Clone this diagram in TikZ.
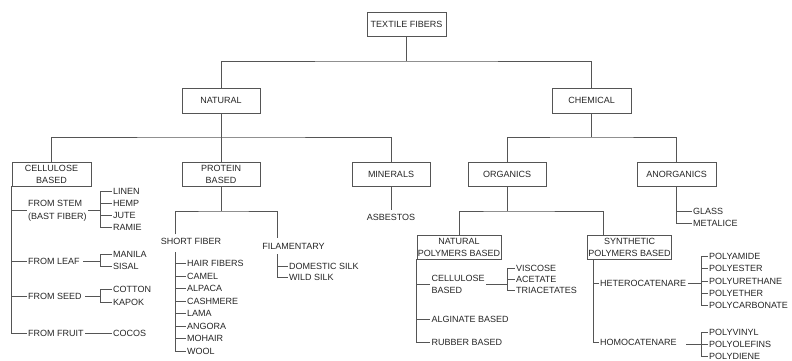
\documentclass[tikz,border=0pt]{standalone}
\usepackage{fontspec}
\setmainfont{Liberation Sans}
\usetikzlibrary{calc}
\definecolor{linec}{HTML}{555555}
\definecolor{textc}{HTML}{262626}
\begin{document}
\begin{tikzpicture}[x=1pt,y=-1pt,
  every node/.style={font=\fontsize{9}{12}\selectfont, text=textc},
  box/.style={draw=linec, line width=0.8pt, rectangle, align=center, inner sep=0.5pt, minimum height=24pt},
  lbl/.style={anchor=west, inner sep=1.5pt},
  conn/.style={draw=linec, line width=0.8pt}]
\useasboundingbox[fill=white] (0,0) rectangle (792,361);

% boxes
\node[box, minimum width=79pt] (tf) at (406.5,24) {TEXTILE FIBERS};
\node[box, minimum width=78pt, minimum height=25pt] (nat) at (221,100.5) {NATURAL};
\node[box, minimum width=79pt, minimum height=25pt] (chem) at (591.5,100.5) {CHEMICAL};
\node[box, minimum width=79pt] (cel) at (51.5,174) {CELLULOSE\\BASED};
\node[box, minimum width=78pt] (pro) at (221,174) {PROTEIN\\BASED};
\node[box, minimum width=78pt] (min) at (391,174) {MINERALS};
\node[box, minimum width=78pt] (org) at (507,174) {ORGANICS};
\node[box, minimum width=79pt] (anorg) at (676.5,174) {ANORGANICS};
\node[box, minimum width=84pt] (npb) at (459,247) {NATURAL\\POLYMERS BASED};
\node[box, minimum width=83pt] (spb) at (629.5,247) {SYNTHETIC\\POLYMERS BASED};

% top level connectors
\coordinate (j1) at (406.5,61);
\draw[conn] (tf.south) -- (j1);
\draw[conn] (nat.north) |- (j1) -| (chem.north);
\coordinate (j2) at (221,137);
\draw[conn] (nat.south) -- (j2);
\draw[conn] (cel.north) |- (j2) -| (min.north);
\draw[conn] (j2) -- (pro.north);
\coordinate (j3) at (591.5,137);
\draw[conn] (chem.south) -- (j3);
\draw[conn] (org.north) |- (j3) -| (anorg.north);

% cellulose based
\node[lbl, align=left, font=\fontsize{9}{13}\selectfont] (stem) at (26.5,210.5) {FROM STEM\\(BAST FIBER)};
\node[lbl] (leaf) at (26.5,261) {FROM LEAF};
\node[lbl] (seed) at (26.5,296) {FROM SEED};
\node[lbl] (fruit) at (26.5,333) {FROM FRUIT};
\node[lbl] (linen) at (111.5,191) {LINEN};
\node[lbl] (hemp) at (111.5,203) {HEMP};
\node[lbl] (jute) at (111.5,215) {JUTE};
\node[lbl] (ramie) at (111.5,227) {RAMIE};
\node[lbl] (manila) at (111.5,254) {MANILA};
\node[lbl] (sisal) at (111.5,266) {SISAL};
\node[lbl] (cotton) at (111.5,289) {COTTON};
\node[lbl] (kapok) at (111.5,302) {KAPOK};
\node[lbl] (cocos) at (111.5,333) {COCOS};
\coordinate (cv) at (100,0);
\draw[conn] (cel.south west) |- (fruit.west);
\foreach \n in {stem,leaf,seed}{\draw[conn] (\n.west -| cel.south west) -- (\n.west);}
\draw[conn] (stem.east) -- (stem.east -| cv);
\draw[conn] (linen.west) -| (cv |- ramie.west) -- (ramie.west);
\draw[conn] (hemp.west -| cv) -- (hemp.west);
\draw[conn] (jute.west -| cv) -- (jute.west);
\draw[conn] ([xshift=2pt]leaf.east) -- (leaf.east -| cv);
\draw[conn] (manila.west) -| (cv |- sisal.west) -- (sisal.west);
\draw[conn] ([xshift=2pt]seed.east) -- (seed.east -| cv);
\draw[conn] (cotton.west) -| (cv |- kapok.west) -- (kapok.west);
\draw[conn] (fruit.east) -- (cocos.west);

% protein based
\coordinate (j4) at (221,211);
\draw[conn] (pro.south) -- (j4);
\node (sf) at (191,241) {SHORT FIBER};
\node (fil) at (293.5,246) {FILAMENTARY};
\coordinate (sfv) at (175,252);
\coordinate (filT) at (277,238);
\coordinate (fv) at (277,254);
\draw[conn] (sfv |- sf.north) |- (j4) -| (filT);
\node[lbl] (hair) at (185.5,263) {HAIR FIBERS};
\node[lbl] (camel) at (185.5,276) {CAMEL};
\node[lbl] (alpaca) at (185.5,288.5) {ALPACA};
\node[lbl] (cash) at (185.5,301) {CASHMERE};
\node[lbl] (lama) at (185.5,313) {LAMA};
\node[lbl] (angora) at (185.5,326) {ANGORA};
\node[lbl] (mohair) at (185.5,338) {MOHAIR};
\node[lbl] (wool) at (185.5,351) {WOOL};
\draw[conn] (sfv) |- (wool.west);
\foreach \n in {hair,camel,alpaca,cash,lama,angora,mohair}{\draw[conn] (\n.west -| sfv) -- (\n.west);}
\node[lbl] (dsilk) at (287.5,266) {DOMESTIC SILK};
\node[lbl] (wsilk) at (287.5,277) {WILD SILK};
\draw[conn] (fv) |- (wsilk.west);
\draw[conn] (dsilk.west -| fv) -- (dsilk.west);

% minerals
\node (asb) at (391,217) {ASBESTOS};
\draw[conn] (min.south) -- (asb.north);

% anorganics
\node[lbl] (glass) at (691.5,211) {GLASS};
\node[lbl] (metal) at (691.5,223) {METALICE};
\draw[conn] (anorg.south) |- (metal.west);
\draw[conn] (glass.west -| anorg.south) -- (glass.west);

% organics
\coordinate (j5) at (507,211);
\coordinate (spbT) at (603,235);
\draw[conn] (org.south) -- (j5);
\draw[conn] (npb.north) |- (j5) -| (spbT);

% natural polymers based
\node[lbl, align=left] (cellb) at (430,284) {CELLULOSE\\BASED};
\node[lbl] (alg) at (430,319) {ALGINATE BASED};
\node[lbl] (rub) at (430,342) {RUBBER BASED};
\draw[conn] (npb.south west) |- (rub.west);
\draw[conn] (cellb.west -| npb.south west) -- (cellb.west);
\draw[conn] (alg.west -| npb.south west) -- (alg.west);
\coordinate (nv) at (507,0);
\node[lbl] (visc) at (514.5,268) {VISCOSE};
\node[lbl] (acet) at (514.5,279) {ACETATE};
\node[lbl] (tria) at (514.5,290) {TRIACETATES};
\draw[conn] (cellb.east) -- (cellb.east -| nv);
\draw[conn] (visc.west) -| (nv |- tria.west) -- (tria.west);
\draw[conn] (acet.west -| nv) -- (acet.west);

% synthetic polymers based
\coordinate (sv2) at (593,259);
\node[lbl] (hetero) at (598.5,283) {HETEROCATENARE};
\node[lbl] (homo) at (598.5,342) {HOMOCATENARE};
\draw[conn] (sv2) |- (homo.west);
\draw[conn] (hetero.west -| sv2) -- (hetero.west);
\coordinate (hv) at (701,0);
\node[lbl] (pa) at (707.5,256) {POLYAMIDE};
\node[lbl] (pes) at (707.5,268) {POLYESTER};
\node[lbl] (pur) at (707.5,281) {POLYURETHANE};
\node[lbl] (pet) at (707.5,293) {POLYETHER};
\node[lbl] (pc) at (707.5,305) {POLYCARBONATE};
\draw[conn] (hetero.east) -- (hetero.east -| hv);
\draw[conn] (pa.west) -| (hv |- pc.west) -- (pc.west);
\foreach \n in {pes,pur,pet}{\draw[conn] (\n.west -| hv) -- (\n.west);}
\node[lbl] (pv) at (707.5,332) {POLYVINYL};
\node[lbl] (po) at (707.5,344.5) {POLYOLEFINS};
\node[lbl] (pd) at (707.5,356) {POLYDIENE};
\draw[conn] (pv.west) -| (hv |- pd.west) -- (pd.west);
\draw[conn] ([xshift=8pt]homo.east |- po.west) -- (po.west);
\end{tikzpicture}
\end{document}
